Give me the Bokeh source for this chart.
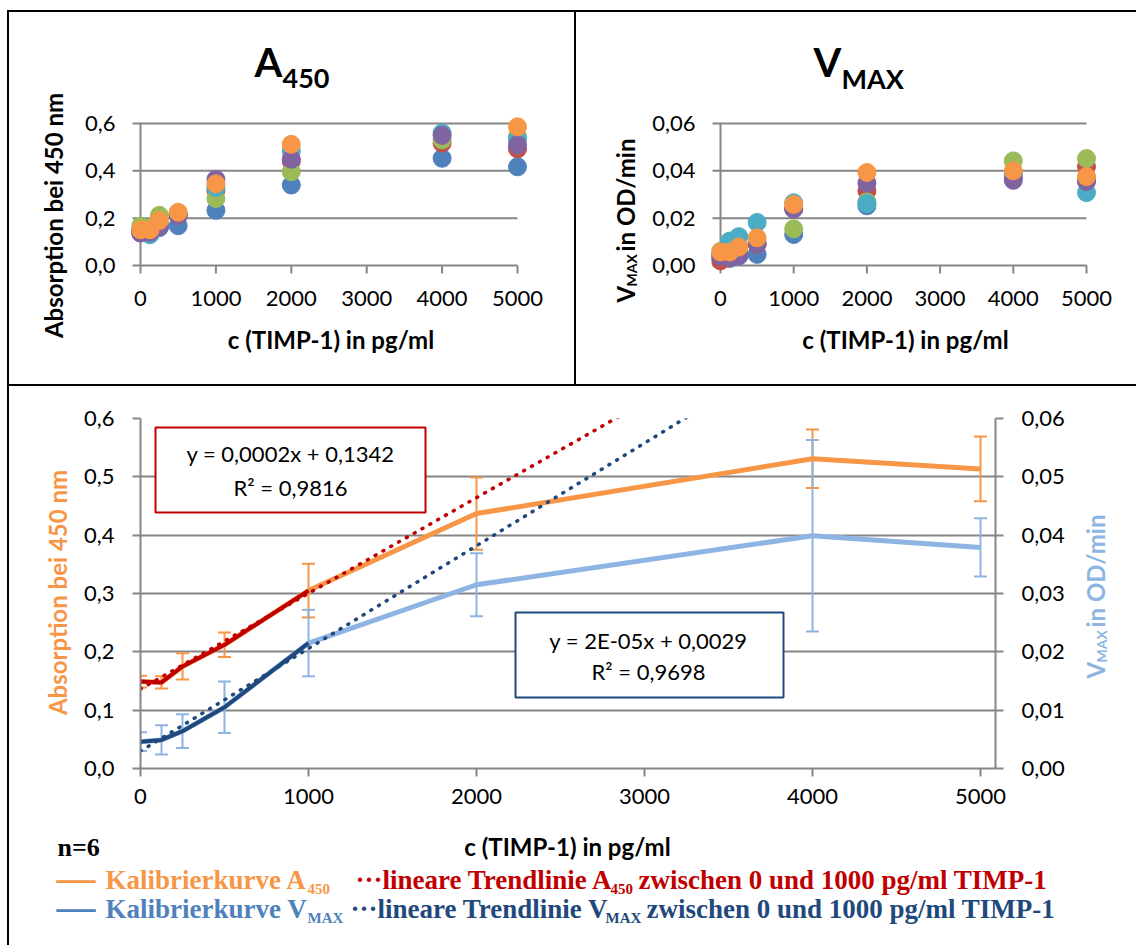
import math
import numpy as np
from bokeh.plotting import figure
from bokeh.models import (Range1d, LinearAxis, FixedTicker, CustomJSTickFormatter, Label,
                          BoxAnnotation, Whisker, TeeHead, ColumnDataSource, Spacer)
from bokeh.layouts import column, row
from bokeh.embed import file_html
from bokeh.resources import INLINE

# ---------------- data ----------------
conc = [0, 125, 250, 500, 1000, 2000, 4000, 5000]
x_ticks = [0, 1000, 2000, 3000, 4000, 5000]
a450_ticks_top = [0.0, 0.2, 0.4, 0.6]
vmax_ticks_top = [0.0, 0.02, 0.04, 0.06]
a450_ticks_bottom = [0.0, 0.1, 0.2, 0.3, 0.4, 0.5, 0.6]
vmax_ticks_bottom = [0.0, 0.01, 0.02, 0.03, 0.04, 0.05, 0.06]
fit_upper_conc = 1000

# replicate colours (drawing order)
rep_colors = ["#4F81BD", "#C0504D", "#9BBB59", "#4BACC6", "#8064A2", "#F79646"]

nan = float("nan")
a450_rep_blue = [0.145, 0.140, 0.160, 0.168, 0.233, 0.340, 0.453, 0.417]
a450_rep_red = [0.140, 0.140, 0.170, 0.215, 0.318, 0.440, 0.517, 0.493]
a450_rep_green = [0.166, 0.160, 0.212, 0.215, 0.283, 0.396, 0.531, 0.545]
a450_rep_cyan = [0.140, 0.130, 0.175, 0.215, 0.330, 0.484, 0.560, 0.535]
a450_rep_purple = [0.137, 0.140, 0.166, 0.210, 0.364, 0.449, 0.550, 0.510]
a450_rep_orange = [0.151, 0.151, 0.190, 0.225, 0.345, 0.512, nan, 0.586]

vmax_rep_blue = [0.0036, 0.0030, 0.0040, 0.0047, 0.0131, 0.0252, 0.0370, 0.0360]
vmax_rep_red = [0.0020, 0.0035, 0.0050, 0.0090, 0.0240, 0.0315, 0.0385, 0.0418]
vmax_rep_green = [0.0060, 0.0045, 0.0060, 0.0095, 0.0155, 0.0269, 0.0442, 0.0452]
vmax_rep_cyan = [0.0050, 0.0103, 0.0122, 0.0182, 0.0265, 0.0262, 0.0385, 0.0308]
vmax_rep_purple = [0.0040, 0.0036, 0.0043, 0.0092, 0.0238, 0.0348, 0.0360, 0.0355]
vmax_rep_orange = [0.0057, 0.0057, 0.0078, 0.0117, 0.0258, 0.0393, 0.0400, 0.0376]

a450_mean = [0.149, 0.1475, 0.175, 0.212, 0.305, 0.437, 0.531, 0.5135]
a450_sd = [0.010, 0.0105, 0.0225, 0.021, 0.046, 0.062, 0.050, 0.0555]
vmax_mean = [0.0046, 0.0049, 0.0064, 0.0105, 0.0215, 0.0315, 0.0399, 0.0379]
vmax_sd = [0.0016, 0.0025, 0.0029, 0.0044, 0.0057, 0.0054, 0.0164, 0.0050]

# ---------------- style ----------------
ORANGE = "#F79646"
LBLUE = "#8DB4E2"
DRED = "#C00000"
DBLUE = "#1F497D"
MBLUE = "#4F81BD"
GRID = "#868686"
FONT = "Lato"
SERIF = "Liberation Serif"
UP = math.pi / 2
XLABEL = "c (TIMP-1) in pg/ml"


def lab(p, x, y, text, size, color="#000000", font=FONT, bold=False,
        align="left", baseline="middle", angle=0.0):
    p.add_layout(Label(x=x, y=y, x_units="canvas", y_units="canvas", text=text,
                       text_font=font, text_font_size=f"{size}px",
                       text_font_style="bold" if bold else "normal",
                       text_color=color, text_align=align, text_baseline=baseline,
                       angle=angle))


def text_fig(w, h, shadow):
    f = figure(width=w, height=h, x_range=Range1d(0, w), y_range=Range1d(0, h),
               min_border=0, x_axis_type=None, y_axis_type=None,
               output_backend="svg", toolbar_location=None,
               outline_line_color=None, background_fill_color=None,
               border_fill_color=None)
    f.styles = {"box-shadow": shadow}
    return f


def fmt(nd):
    return CustomJSTickFormatter(code=f"return tick.toFixed({nd}).replace('.', ',');")


CH_H = 277


def top_chart(width, ax_left, ax_right, ymax, yticks, nd, reps, shadow):
    ax_top, ax_bot = 15, 157
    pl, pr, pt, pb, tick = 9, 13, 13, 13, 8
    ux = (x_ticks[-1] - x_ticks[0]) / (ax_right - ax_left)
    uy = ymax / (ax_bot - ax_top)
    p = figure(width=width, height=CH_H, output_backend="svg", toolbar_location=None,
               x_range=Range1d(x_ticks[0] - pl * ux, x_ticks[-1] + pr * ux),
               y_range=Range1d(-pb * uy, ymax + pt * uy),
               min_border_left=ax_left - pl, min_border_right=width - ax_right - pr,
               min_border_top=ax_top - pt, min_border_bottom=CH_H - ax_bot - pb,
               border_fill_color=None, background_fill_color=None,
               outline_line_color=None)
    p.styles = {"box-shadow": shadow}
    p.grid.visible = False
    xl = x_ticks[0] - tick * ux
    n = len(yticks)
    p.segment(x0=[xl] * n, x1=[x_ticks[-1]] * n, y0=yticks, y1=yticks,
              line_color=GRID, line_width=2)
    p.segment(x0=[x_ticks[0]], x1=[x_ticks[0]], y0=[yticks[0]], y1=[yticks[-1]],
              line_color=GRID, line_width=2)
    m = len(x_ticks)
    p.segment(x0=x_ticks, x1=x_ticks, y0=[yticks[0]] * m, y1=[yticks[0] - tick * uy] * m,
              line_color=GRID, line_width=2)
    for vals, c in zip(reps, rep_colors):
        p.scatter(conc, vals, size=18, color=c, marker="circle")
    for ax in (p.xaxis[0], p.yaxis[0]):
        ax.axis_line_color = None
        ax.major_tick_line_color = None
        ax.minor_tick_line_color = None
        ax.major_tick_out = 0
        ax.major_tick_in = 0
        ax.minor_tick_out = 0
        ax.minor_tick_in = 0
        ax.major_label_text_font = FONT
        ax.major_label_text_font_size = "22px"
        ax.major_label_text_color = "#000000"
    p.xaxis.ticker = FixedTicker(ticks=x_ticks)
    p.yaxis.ticker = FixedTicker(ticks=yticks)
    p.yaxis.formatter = fmt(nd)
    p.xaxis.major_label_standoff = 12
    p.yaxis.major_label_standoff = 16
    p.xaxis.axis_label = XLABEL
    p.xaxis.axis_label_text_font = FONT
    p.xaxis.axis_label_text_font_size = "24px"
    p.xaxis.axis_label_text_font_style = "bold"
    p.xaxis.axis_label_text_color = "#000000"
    p.xaxis.axis_label_standoff = 16
    return p


# ---------------- top-left: A450 ----------------
L1 = text_fig(63, 375, "inset 2px 2px 0 0 #000, inset 0 -1px 0 0 #000")
lab(L1, 46, 205, "Absorption bei 450 nm", 24, bold=True, align="center", angle=UP)
T1 = text_fig(505, 98, "inset -1px 2px 0 0 #000")
lab(T1, 184, 51, "A", 40, bold=True)
lab(T1, 212, 68, "450", 27, bold=True)
C1 = top_chart(505, 70, 447, a450_ticks_top[-1], a450_ticks_top, 1,
               [a450_rep_blue, a450_rep_red, a450_rep_green, a450_rep_cyan,
                a450_rep_purple, a450_rep_orange],
               "inset -1px -1px 0 0 #000")

# ---------------- top-right: VMAX ----------------
L2 = text_fig(65, 375, "inset 1px 2px 0 0 #000, inset 0 -1px 0 0 #000")
lab(L2, 50, 292, "V", 24, bold=True, angle=UP)
lab(L2, 56, 276, "MAX", 14, bold=True, angle=UP)
lab(L2, 50, 241, "in OD/min", 24, bold=True, angle=UP)
T2 = text_fig(496, 98, "inset 0 2px 0 0 #000")
lab(T2, 173, 51, "V", 40, bold=True)
lab(T2, 201, 68, "MAX", 27, bold=True)
C2 = top_chart(496, 80, 446, vmax_ticks_top[-1], vmax_ticks_top, 2,
               [vmax_rep_blue, vmax_rep_red, vmax_rep_green, vmax_rep_cyan,
                vmax_rep_purple, vmax_rep_orange],
               "inset 0 -1px 0 0 #000")

# ---------------- bottom: calibration curves ----------------
B_W, B_H = 995, 445
b_left, b_x5000, b_right, b_top, b_bot = 65, 905, 920, 33, 383
uxb = (x_ticks[-1] - x_ticks[0]) / (b_x5000 - b_left)
x_end = x_ticks[-1] + (b_right - b_x5000) * uxb

C3 = figure(width=B_W, height=B_H, output_backend="svg", toolbar_location=None,
            x_range=Range1d(x_ticks[0], x_end),
            y_range=Range1d(a450_ticks_bottom[0], a450_ticks_bottom[-1]),
            min_border_left=b_left, min_border_right=B_W - b_right,
            min_border_top=b_top, min_border_bottom=B_H - b_bot,
            border_fill_color=None, background_fill_color=None,
            outline_line_color=None)
C3.styles = {"box-shadow": "inset 0 1px 0 0 #000"}
C3.extra_y_ranges = {"vmax": Range1d(vmax_ticks_bottom[0], vmax_ticks_bottom[-1])}
C3.add_layout(LinearAxis(y_range_name="vmax"), "right")

C3.xgrid.visible = False
C3.ygrid.grid_line_color = GRID
C3.ygrid.grid_line_width = 2
C3.ygrid.ticker = FixedTicker(ticks=a450_ticks_bottom)

for ax in C3.axis:
    ax.axis_line_color = GRID
    ax.axis_line_width = 2
    ax.major_tick_line_color = GRID
    ax.major_tick_line_width = 2
    ax.major_tick_out = 8
    ax.major_tick_in = 0
    ax.minor_tick_line_color = None
    ax.major_label_text_font = FONT
    ax.major_label_text_font_size = "22px"
    ax.major_label_text_color = "#000000"
C3.xaxis.ticker = FixedTicker(ticks=x_ticks)
C3.xaxis.major_label_standoff = 12
C3.yaxis[0].ticker = FixedTicker(ticks=a450_ticks_bottom)
C3.yaxis[0].formatter = fmt(1)
C3.yaxis[0].major_label_standoff = 18
C3.yaxis[1].ticker = FixedTicker(ticks=vmax_ticks_bottom)
C3.yaxis[1].formatter = fmt(2)
C3.yaxis[1].major_label_standoff = 18

# curves
C3.line(conc, a450_mean, line_color=ORANGE, line_width=5)
C3.line(conc, vmax_mean, line_color=LBLUE, line_width=5, y_range_name="vmax")
fit_n = sum(1 for c in conc if c <= fit_upper_conc)
C3.line(conc[:fit_n], a450_mean[:fit_n], line_color=DRED, line_width=4)
C3.line(conc[:fit_n], vmax_mean[:fit_n], line_color=DBLUE, line_width=4,
        y_range_name="vmax")

# error bars
a_src = ColumnDataSource(dict(x=conc,
                              lo=[m - s for m, s in zip(a450_mean, a450_sd)],
                              hi=[m + s for m, s in zip(a450_mean, a450_sd)]))
v_src = ColumnDataSource(dict(x=conc,
                              lo=[m - s for m, s in zip(vmax_mean, vmax_sd)],
                              hi=[m + s for m, s in zip(vmax_mean, vmax_sd)]))
C3.add_layout(Whisker(source=a_src, base="x", lower="lo", upper="hi",
                      line_color=ORANGE, line_width=2,
                      upper_head=TeeHead(size=13, line_color=ORANGE, line_width=2),
                      lower_head=TeeHead(size=13, line_color=ORANGE, line_width=2)))
C3.add_layout(Whisker(source=v_src, base="x", lower="lo", upper="hi",
                      y_range_name="vmax", line_color=LBLUE, line_width=2,
                      upper_head=TeeHead(size=13, line_color=LBLUE, line_width=2),
                      lower_head=TeeHead(size=13, line_color=LBLUE, line_width=2)))

# linear trendlines over 0..1000 pg/ml
ka, ba = np.polyfit(conc[:fit_n], a450_mean[:fit_n], 1)
kv, bv = np.polyfit(conc[:fit_n], vmax_mean[:fit_n], 1)
xt = np.array([x_ticks[0], x_end])
C3.line(xt, ka * xt + ba, line_color=DRED, line_width=3.5, line_dash="1 8",
        line_cap="round")
C3.line(xt, kv * xt + bv, line_color=DBLUE, line_width=3.5, line_dash="1 8",
        line_cap="round", y_range_name="vmax")

# equation boxes (inside the plot frame)
C3.add_layout(BoxAnnotation(left=80, right=350, top=42, bottom=127,
                            left_units="canvas", right_units="canvas",
                            top_units="canvas", bottom_units="canvas",
                            fill_color="white", fill_alpha=1.0,
                            line_color=DRED, line_width=2, line_alpha=1.0))
C3.add_layout(BoxAnnotation(left=440, right=708, top=227, bottom=312,
                            left_units="canvas", right_units="canvas",
                            top_units="canvas", bottom_units="canvas",
                            fill_color="white", fill_alpha=1.0,
                            line_color=DBLUE, line_width=2, line_alpha=1.0))
lab(C3, 215, 68, "y = 0,0002x + 0,1342", 22, align="center")
lab(C3, 215, 102, "R² = 0,9816", 22, align="center")
lab(C3, 573, 255, "y = 2E-05x + 0,0029", 22, align="center")
lab(C3, 573, 286, "R² = 0,9698", 22, align="center")

# side titles of the bottom chart
L3 = text_fig(68, 445, "inset 2px 1px 0 0 #000")
lab(L3, 50, 207, "Absorption bei 450 nm", 24, color=ORANGE, bold=True,
    align="center", angle=UP)
R3 = text_fig(66, 445, "inset 0 1px 0 0 #000")
lab(R3, 25, 293, "V", 24, color=LBLUE, bold=True, angle=UP)
lab(R3, 31, 277, "MAX", 14, color=LBLUE, bold=True, angle=UP)
lab(R3, 25, 242, "in OD/min", 24, color=LBLUE, bold=True, angle=UP)

# x title + legend text block
LEG = text_fig(1129, 115, "inset 2px 0 0 0 #000")
lab(LEG, 560, 16, XLABEL, 24, bold=True, align="center")
lab(LEG, 50, 17, "n=6", 26, font=SERIF, bold=True)
lab(LEG, 49, 47, "—", 39, color=ORANGE, font=SERIF, bold=True)
lab(LEG, 98, 49, "Kalibrierkurve A", 27, color=ORANGE, font=SERIF, bold=True)
lab(LEG, 300, 58, "450", 15, color=ORANGE, font=SERIF, bold=True)
lab(LEG, 348, 49, "···lineare Trendlinie A", 27, color=DRED, font=SERIF, bold=True)
lab(LEG, 603, 58, "450", 15, color=DRED, font=SERIF, bold=True)
lab(LEG, 631, 49, "zwischen 0 und 1000 pg/ml TIMP-1", 27, color=DRED, font=SERIF, bold=True)
lab(LEG, 49, 76, "—", 39, color=MBLUE, font=SERIF, bold=True)
lab(LEG, 98, 78, "Kalibrierkurve V", 27, color=MBLUE, font=SERIF, bold=True)
lab(LEG, 300, 87, "MAX", 15, color=MBLUE, font=SERIF, bold=True)
lab(LEG, 343, 78, "···lineare Trendlinie V", 27, color=DBLUE, font=SERIF, bold=True)
lab(LEG, 598, 87, "MAX", 15, color=DBLUE, font=SERIF, bold=True)
lab(LEG, 639, 78, "zwischen 0 und 1000 pg/ml TIMP-1", 27, color=DBLUE, font=SERIF, bold=True)

top = row(L1, column(T1, C1), L2, column(T2, C2))
bottom = column(row(L3, C3, R3), LEG)
root = column(Spacer(width=1136, height=10),
              row(Spacer(width=7, height=935), column(top, bottom)))

open("out.html", "w").write(file_html(root, INLINE))
